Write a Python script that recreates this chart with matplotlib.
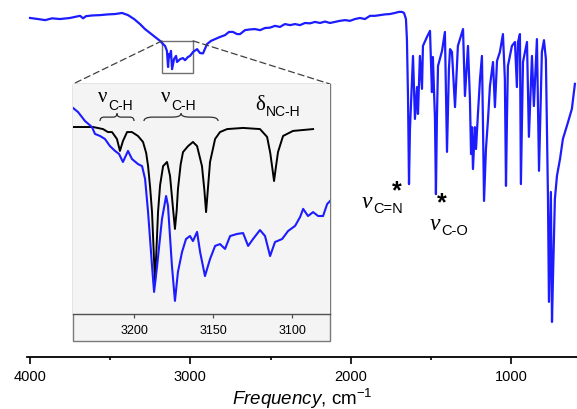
import matplotlib
matplotlib.use('Agg')
import matplotlib.pyplot as plt
import numpy as np
from matplotlib.patches import Rectangle, ConnectionPatch, PathPatch
from matplotlib.path import Path

plt.rcParams['font.family'] = 'Liberation Sans'
plt.rcParams['mathtext.fontset'] = 'custom'
plt.rcParams['mathtext.rm'] = 'Liberation Sans'
plt.rcParams['mathtext.it'] = 'Liberation Sans:italic'

# full spectrum: wavenumber (cm-1) and transmittance (a.u.)
wn = [4000, 3950, 3906, 3863, 3813, 3751, 3719, 3688, 3669, 3651, 3613, 3563,
      3514, 3470, 3426, 3389, 3351, 3314, 3283, 3252, 3220, 3189, 3170, 3158,
      3146, 3139, 3133, 3127, 3121, 3114, 3102, 3089, 3083, 3064, 3046, 3033,
      3015, 3002, 2983, 2958, 2940, 2921, 2896, 2871, 2846, 2815, 2784, 2759,
      2734, 2709, 2690, 2659, 2628, 2597, 2565, 2534, 2503, 2472, 2441, 2410,
      2378, 2347, 2316, 2285, 2254, 2222, 2191, 2160, 2129, 2098, 2067, 2035,
      2004, 1973, 1942, 1911, 1879, 1848, 1817, 1786, 1755, 1724, 1699, 1680,
      1667, 1655, 1649, 1642, 1636, 1630, 1617, 1611, 1599, 1586, 1580, 1568,
      1555, 1549, 1524, 1505, 1493, 1487, 1474, 1468, 1462, 1455, 1430, 1412,
      1399, 1387, 1380, 1368, 1349, 1331, 1299, 1287, 1268, 1256, 1249, 1243,
      1237, 1225, 1218, 1206, 1193, 1181, 1175, 1168, 1156, 1143, 1131, 1112,
      1100, 1087, 1069, 1050, 1038, 1031, 1025, 1019, 994, 975, 963, 956,
      944, 938, 925, 900, 888, 869, 857, 838, 825, 807, 794, 782,
      769, 763, 757, 751, 744, 738, 726, 713, 694, 676, 644, 620, 601]
tr = [94.7, 94.4, 94.1, 94.6, 94.4, 94.7, 95.0, 95.3, 94.6, 95.2, 95.4, 95.5,
      95.7, 95.8, 96.1, 95.5, 94.4, 93.0, 91.6, 90.5, 89.4, 88.3, 87.4, 86.9,
      85.5, 81.0, 84.6, 83.8, 85.5, 80.4, 83.2, 84.1, 82.4, 83.2, 83.5, 82.9,
      83.8, 84.1, 85.2, 86.0, 84.9, 84.8, 87.4, 88.3, 88.8, 89.4, 89.9, 90.8,
      90.8, 90.2, 90.2, 91.3, 91.5, 91.6, 91.3, 91.9, 92.0, 92.5, 92.2, 93.0,
      92.7, 93.0, 92.7, 93.3, 93.2, 93.6, 93.3, 93.7, 93.3, 93.6, 93.9, 94.1,
      93.9, 94.4, 94.7, 94.4, 95.3, 95.3, 95.5, 95.7, 95.8, 96.1, 96.4, 96.4,
      96.1, 94.4, 88.8, 72.1, 48.3, 63.7, 77.7, 84.1, 66.5, 75.4, 67.9, 84.1,
      74.9, 86.9, 89.4, 91.1, 74.0, 83.8, 66.5, 45.5, 66.5, 81.3, 85.5, 90.8,
      57.3, 80.4, 86.0, 85.2, 69.8, 86.9, 91.6, 72.9, 86.9, 72.1, 56.7, 64.2,
      52.5, 64.2, 58.1, 67.9, 77.7, 84.1, 66.5, 43.6, 58.1, 66.5, 75.7, 82.4,
      69.8, 82.7, 85.2, 90.2, 77.7, 47.8, 66.5, 81.3, 86.9, 88.0, 75.4, 88.0,
      90.2, 48.3, 82.4, 88.0, 61.5, 84.1, 70.1, 88.8, 52.0, 85.2, 88.5, 83.2,
      44.1, 15.4, 30.2, 46.1, 9.8, 21.8, 44.1, 50.6, 55.3, 60.9, 65.6, 69.3, 76.3]

# inset: measured (blue) and calculated (black) spectra, 3240-3075 cm-1
calc_wn = [3238.6, 3225.9, 3219.6, 3216.5, 3213.9, 3210.8, 3208.9, 3207.0,
           3204.4, 3201.3, 3197.5, 3194.3, 3192.3, 3191.1, 3189.8, 3188.6,
           3187.6, 3186.7, 3185.8, 3184.8, 3183.5, 3181.6, 3179.1, 3177.2,
           3175.3, 3174.1, 3173.0, 3172.2, 3170.5, 3169.0, 3165.8,
           3162.7, 3160.1, 3157.0, 3155.5, 3154.4, 3153.3, 3151.9, 3148.7,
           3145.6, 3141.1, 3131.0, 3120.3, 3115.8, 3113.8, 3112.4, 3111.4,
           3110.4, 3108.9, 3105.7, 3099.4, 3086.7]
calc_tr = [81.3, 81.3, 80.4, 79.1, 79.1, 76.1, 70.9, 75.2,
           79.1, 79.1, 77.4, 74.8, 70.0, 64.3, 55.0, 44.3,
           28.0, 13.9, 28.0, 44.3, 56.0, 64.3, 66.1, 60.0,
           45.7, 37.0, 45.0, 54.3, 65.0, 70.4, 73.0,
           74.8, 73.0, 64.3, 54.0, 44.3, 54.0, 66.1, 76.1,
           79.1, 80.4, 80.9, 80.4, 77.0, 70.0, 63.0, 57.8,
           63.0, 70.4, 77.4, 79.6, 80.4]
exp_wn = [3238.6, 3235.4, 3231.0, 3226.6, 3224.7, 3221.5, 3218.4, 3215.2,
          3212.0, 3209.5, 3207.0, 3203.8, 3201.3, 3197.5, 3194.9, 3193.0,
          3191.1, 3188.6, 3187.3, 3185.4, 3182.3, 3179.7, 3178.5, 3176.0,
          3174.1, 3172.2, 3169.6, 3167.1, 3164.6, 3162.7, 3160.1, 3158.2,
          3155.1, 3151.9, 3148.7, 3145.6, 3142.4, 3139.2, 3134.8, 3131.0,
          3127.8, 3124.7, 3120.3, 3117.1, 3113.9, 3110.8, 3106.3, 3102.5,
          3098.1, 3094.9, 3093.0, 3089.9, 3086.7, 3083.5, 3080.4, 3077.8, 3076.0]
exp_tr = [89.6, 87.8, 83.9, 81.3, 78.3, 77.4, 76.1, 73.0,
          70.9, 69.6, 66.1, 70.9, 67.4, 65.2, 64.3, 58.7,
          44.3, 20.9, 9.6, 20.9, 41.3, 51.3, 47.0, 20.9,
          5.7, 18.3, 27.0, 32.6, 33.9, 31.7, 35.7, 27.0,
          16.5, 23.9, 29.6, 30.4, 28.3, 33.9, 34.8, 35.2,
          29.6, 32.6, 36.5, 33.9, 25.2, 31.3, 32.6, 36.1,
          38.3, 42.2, 45.7, 42.6, 44.3, 42.6, 42.6, 47.8, 49.1]

blue = '#1c1cff'
inset_bg = '#f4f4f4'

fig = plt.figure(figsize=(5.77, 4.10), dpi=100)
ax = fig.add_axes([27 / 577, 52 / 410, 550 / 577, 358 / 410])
ax.plot(wn, tr, color=blue, lw=1.6, solid_joinstyle='round')
ax.set_xlim(4019, 588)
ax.set_ylim(0, 100)
for s in ['left', 'top', 'right']:
    ax.spines[s].set_visible(False)
ax.spines['bottom'].set_linewidth(1.3)
ax.set_yticks([])
ax.set_xticks([4000, 3000, 2000, 1000])
ax.set_xticks([3500, 2500, 1500], minor=True)
ax.tick_params(axis='x', which='major', direction='out', length=5, width=1.2,
               labelsize=10.5, pad=4)
ax.tick_params(axis='x', which='minor', direction='out', length=2.5, width=1.2)
ax.set_xlabel(r'$\it{Frequency}$, cm$^{-1}$', fontsize=13.5, labelpad=2)
ax.patch.set_alpha(0)

# zoom box on the main spectrum
ax.add_patch(Rectangle((3177, 79.3), 2983 - 3177, 9.0, fill=False,
                       edgecolor='#707070', lw=1.0))


def nu_label(a, x, y, sub, size, subsize, italic, dy=0):
    t = a.text(x, y, '\u03bd', fontsize=size, family='Liberation Serif',
               style='italic' if italic else 'normal', ha='left', va='baseline')
    a.annotate(sub, xy=(1, 0), xycoords=t, xytext=(0.5, dy),
               textcoords='offset points', fontsize=subsize, ha='left',
               va='baseline')
    return t


nu_label(ax, 1929, 41.9, 'C=N', 17, 10.5, True)
nu_label(ax, 1505, 35.8, 'C-O', 17, 10.5, True)
ax.text(1711, 46.5, '*', fontsize=18, fontweight='bold', ha='center', va='center')
ax.text(1430, 43.3, '*', fontsize=18, fontweight='bold', ha='center', va='center')

# inset frame
frame = Rectangle((73 / 577, 68 / 410), 257 / 577, 257 / 410,
                  transform=fig.transFigure, facecolor=inset_bg,
                  edgecolor='#7a7a7a', lw=1.0, zorder=0.5)
fig.add_artist(frame)

axin = fig.add_axes([73 / 577, 95 / 410, 257 / 577, 230 / 410], zorder=1)
axin.set_facecolor(inset_bg)
axin.plot(calc_wn, calc_tr, color='black', lw=1.4, solid_joinstyle='round')
axin.plot(exp_wn, exp_tr, color=blue, lw=1.5, solid_joinstyle='round')
axin.set_xlim(3238.6, 3076)
axin.set_ylim(0, 100)
for s in ['left', 'top', 'right']:
    axin.spines[s].set_visible(False)
axin.spines['bottom'].set_linewidth(1.0)
axin.spines['bottom'].set_color('#505050')
axin.set_yticks([])
axin.set_xticks([3200, 3150, 3100])
axin.tick_params(axis='x', direction='out', length=3, width=0.9,
                 labelsize=9, pad=4, color='#505050')

nu_label(axin, 3222.8, 92.6, 'C-H', 15, 10, False, dy=-2)
nu_label(axin, 3182.9, 92.6, 'C-H', 15, 10, False, dy=-2)
td = axin.text(3123.4, 89.1, '\u03b4', fontsize=15, family='Liberation Serif',
               ha='left', va='baseline')
axin.annotate('NC-H', xy=(1, 0), xycoords=td, xytext=(0.5, -1),
              textcoords='offset points', fontsize=10, ha='left', va='baseline')


def brace(a, x0, x1, yb, yt, ytip):
    xm = (x0 + x1) / 2
    d = (x1 - x0) * 0.12
    verts = [(x0, yb), (x0, yt), (x0 + d, yt),
             (xm - d, yt),
             (xm, yt), (xm, ytip),
             (xm, yt), (xm + d, yt),
             (x1 - d, yt),
             (x1, yt), (x1, yb)]
    codes = [Path.MOVETO, Path.CURVE3, Path.CURVE3,
             Path.LINETO,
             Path.CURVE3, Path.CURVE3,
             Path.CURVE3, Path.CURVE3,
             Path.LINETO,
             Path.CURVE3, Path.CURVE3]
    a.add_patch(PathPatch(Path(verts, codes), fill=False, lw=0.9,
                          edgecolor='#303030'))


brace(axin, 3221.5, 3200.0, 83.9, 85.6, 87.2)
brace(axin, 3193.7, 3146.8, 83.9, 85.6, 87.2)

# dashed lines from zoom box to inset
for (bx, fx) in [(3177, 0), (2983, 1)]:
    cp = ConnectionPatch(xyA=(bx, 88.3), coordsA=ax.transData,
                         xyB=(fx, 1), coordsB=axin.transAxes,
                         linestyle=(0, (5, 3)), color='#404040', lw=0.9)
    fig.add_artist(cp)

fig.savefig('out.png', dpi=100)
